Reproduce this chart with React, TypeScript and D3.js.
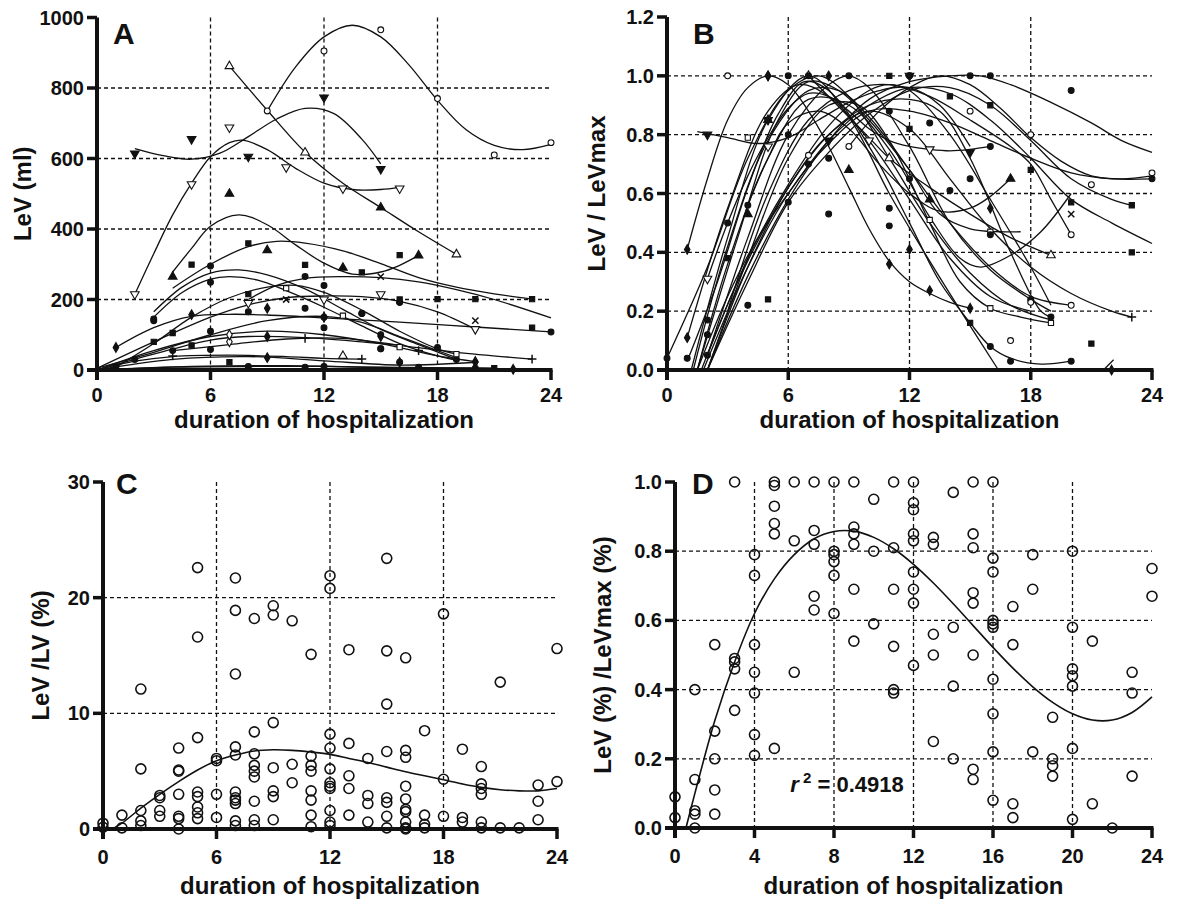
import React from 'react';
import * as d3 from 'd3';

type Pt = [number, number];
type Loose = [number, number, string];

// ---- panel A: LeV (ml), markers + fitted curve for each patient ----
const aShapes = ['o', 'T', 'v', 'V', 't', 's', 'c', 'c', 'x', 'S', 'd', 'V', '+', 'd', '+', 'd', 'c', 'c', 's', 'd', 'D'];
const aPoints: Pt[][] = [
  [[9, 735], [12, 905], [15, 965], [18, 770], [21, 610], [24, 645]],
  [[7, 862], [11, 617], [19, 328]],
  [[2, 614], [5, 655], [8, 605], [12, 773], [15, 570]],
  [[2, 215], [5, 527], [7, 688], [10, 575], [13, 515], [16, 515]],
  [[4, 265], [7, 500], [9, 340], [13, 290], [17, 325]],
  [[5, 299], [8, 359], [11, 298], [14, 277], [18, 201], [20, 201], [23, 201]],
  [[3, 145], [6, 295], [11, 265], [14, 160], [18, 64]],
  [[3, 140], [6, 249], [12, 240], [16, 192], [19, 30]],
  [[10, 200], [15, 265], [20, 140]],
  [[10, 232], [13, 154], [16, 65], [19, 45]],
  [[1, 64], [5, 157], [9, 175], [12, 150]],
  [[8, 190], [12, 200], [15, 215], [20, 116]],
  [[11, 90], [17, 55], [23, 31]],
  [[9, 95], [15, 95], [20, 24]],
  [[4, 40], [14, 31]],
  [[9, 35], [16, 22], [20, 22]],
  [[6, 58], [12, 150], [15, 60], [24, 108]],
  [[8, 10], [11, 8], [12, 10], [16, 22], [17, 8], [20, 5]],
  [[7, 22], [21, 5], [23, 120]],
  [[22, 2]],
  [[7, 80], [7, 100]],
];
const aFits: Pt[][] = [
  [[9, 735], [10.5, 860], [12, 945], [13.5, 978], [15, 945], [16.5, 865], [18, 765], [19.5, 682], [21, 637], [22.5, 625], [24, 640]],
  [[7, 862], [9, 737], [11, 618], [13, 530], [15, 461], [17, 392], [19, 328]],
  [[2, 628], [3.5, 608], [5, 598], [6.5, 615], [8, 662], [9.5, 712], [11, 742], [12.5, 728], [14, 655], [15, 585]],
  [[2, 215], [3, 330], [4, 440], [5, 530], [6, 605], [7, 645], [7.7, 652], [9, 625], [10.5, 572], [12, 530], [13.5, 512], [15, 512], [16, 518]],
  [[4, 278], [5, 345], [6, 408], [7.5, 440], [9, 412], [10.5, 355], [12, 303], [13.5, 272], [15, 278], [16, 297], [17, 325]],
  [[4, 232], [6, 300], [8, 350], [9.5, 365], [11, 360], [13, 338], [15, 302], [17, 262], [19, 235], [21, 216], [23, 201]],
  [[3, 165], [4.5, 235], [6, 275], [7.5, 284], [9, 270], [11, 230], [13, 172], [15, 115], [17, 72], [19, 30]],
  [[3, 150], [4.5, 220], [6, 258], [7, 265], [8.5, 255], [10, 225], [12, 178], [14, 125], [16, 75], [18, 40], [19, 28]],
  [[8, 200], [9.5, 240], [11, 260], [13, 265], [15, 262], [17, 250], [19, 228], [21, 200], [24, 148]],
  [[1, 8], [3, 75], [5, 150], [7, 205], [9, 235], [10.5, 240], [12, 220], [14, 170], [16, 110], [18, 60], [19, 45]],
  [[1, 64], [3, 120], [5, 152], [7, 158], [9, 156], [12, 148], [16, 136], [20, 122], [24, 108]],
  [[0, 5], [3, 80], [6, 150], [8, 185], [10, 205], [12, 210], [14, 208], [16, 195], [18, 165], [20, 116]],
  [[4, 55], [7, 72], [10, 88], [13, 90], [16, 70], [19, 50], [23, 31]],
  [[0, 0], [3, 55], [6, 95], [9, 110], [12, 100], [15, 75], [18, 40], [20, 24]],
  [[0, 0], [2, 25], [4, 38], [7, 42], [10, 38], [12, 33], [14, 31]],
  [[0, 0], [4, 30], [8, 38], [12, 26], [16, 14], [20, 22]],
  [[0, 5], [3, 50], [6, 100], [9, 140], [12, 152], [14, 135], [16, 95], [18, 55], [19, 35]],
  [[0, 0], [4, 8], [8, 10], [12, 10], [16, 6], [20, 5], [22, 3]],
  [[0, 0], [5, 10], [10, 12], [15, 8], [21, 5]],
  [[0, 0], [8, 3], [16, 2], [22, 2]],
  [[0, 0], [3, 45], [6, 85], [8, 95], [11, 92], [14, 80], [16, 70]],
];
const aLoose: Loose[] = [
  [15, 461, 't'], [16, 326, 's'], [8, 215, 's'], [14, 160, 'c'], [16, 192, 'c'], [16, 200, 's'],
  [13, 40, 'T'], [15, 60, 'c'], [1, 10, 'c'], [2, 30, 'c'], [3, 80, 's'], [4, 105, 's'], [4, 55, 'c'],
  [5, 70, 's'], [6, 110, 'c'], [8, 165, 'c'], [11, 175, 'c'], [12, 120, 'c'], [15, 100, 'c'],
];

// ---- panel B: LeV / LeVmax ----
const bShapes = ['d', 'v', 'o', 'V', 'T', 't', 'c', 'c', 'c', 'S', 'x', 'S', 'c', 'c', 's', 'c', 'c', 'c', '+', 'o', 'o', 'd', 'd', 'c'];
const bPoints: Pt[][] = [
  [[1, 0.41], [5, 1.0], [11, 0.36], [13, 0.27], [15, 0.21]],
  [[2, 0.8], [5, 0.85], [8, 0.78], [12, 1.0], [15, 0.74]],
  [[9, 0.76], [18, 0.8], [21, 0.63], [24, 0.67]],
  [[2, 0.31], [5, 0.76], [10, 0.78], [13, 0.75]],
  [[7, 1.0], [11, 0.72], [19, 0.39]],
  [[4, 0.53], [5, 0.85], [9, 0.68], [13, 0.58], [17, 0.65]],
  [[7, 1.0], [11, 0.49]],
  [[1, 0.04], [6, 1.0], [16, 0.08], [17, 0.03], [20, 0.03]],
  [[2, 0.05], [9, 1.0], [14, 0.61], [18, 0.24]],
  [[4, 0.79], [13, 0.51], [16, 0.47]],
  [[20, 0.53]],
  [[16, 0.21], [19, 0.16]],
  [[12, 0.65], [15, 0.65], [19, 0.18]],
  [[6, 0.57], [8, 0.72], [12, 1.0]],
  [[11, 1.0], [14, 0.93], [16, 0.9], [18, 0.68], [23, 0.56]],
  [[15, 1.0], [16, 1.0], [20, 0.95]],
  [[11, 0.88], [16, 0.76], [24, 0.65]],
  [[13, 0.84], [16, 0.46]],
  [[23, 0.18]],
  [[15, 0.88], [20, 0.46]],
  [[7, 0.73], [20, 0.22]],
  [[1, 0.11], [12, 0.41], [16, 0.55]],
  [[22, 0]],
  [[0, 0.04], [3, 0.5], [7, 0.7]],
];
const bFits: Pt[][] = [
  [[1, 0.41], [2, 0.65], [3, 0.85], [4, 0.96], [5, 1.0], [6, 0.97], [7, 0.88], [8, 0.76], [9, 0.62], [10, 0.48], [11, 0.37], [12, 0.3], [13, 0.26], [14, 0.23], [15, 0.21]],
  [[1.5, 0.81], [3, 0.79], [4.5, 0.77], [6, 0.79], [7.5, 0.85], [9, 0.91], [10.5, 0.95], [12, 0.96], [13.5, 0.9], [15, 0.76]],
  [[9, 0.76], [10.5, 0.88], [12, 0.96], [13.5, 1.0], [15, 0.97], [16.5, 0.89], [18, 0.79], [19.5, 0.71], [21, 0.66], [22.5, 0.65], [24, 0.66]],
  [[2, 0.31], [3, 0.5], [4, 0.66], [5, 0.79], [6, 0.89], [7, 0.94], [8, 0.93], [9, 0.88], [10, 0.82], [11, 0.78], [12, 0.76], [13, 0.75], [14, 0.745], [15, 0.75], [16, 0.76]],
  [[7, 1.0], [8, 0.93], [9, 0.86], [10, 0.79], [11, 0.72], [13, 0.62], [15, 0.53], [17, 0.45], [19, 0.39]],
  [[4, 0.56], [5, 0.72], [6, 0.84], [7.5, 0.88], [9, 0.82], [10.5, 0.7], [12, 0.6], [13.5, 0.54], [15, 0.55], [16, 0.59], [17, 0.65]],
  [[1.2, 0], [3, 0.45], [5, 0.85], [7, 1.0], [9, 0.86], [11, 0.6], [13, 0.37], [15, 0.15], [16.4, 0]],
  [[1, 0.03], [2.5, 0.3], [4, 0.62], [5.5, 0.87], [6.8, 0.98], [8, 0.95], [10, 0.76], [12, 0.5], [13.5, 0.3], [15, 0.16], [16, 0.08], [17, 0.04], [18.5, 0.02], [20, 0.03]],
  [[2, 0.05], [4, 0.45], [6, 0.8], [8, 0.97], [9, 1.0], [10, 0.96], [12, 0.76], [14, 0.5], [16, 0.34], [18, 0.24], [19, 0.2]],
  [[1.3, 0], [3, 0.42], [5, 0.78], [7, 0.95], [8.5, 0.95], [10, 0.86], [12, 0.68], [13.5, 0.53], [15, 0.48], [16.5, 0.47], [17.5, 0.47]],
  [[1.5, 0], [3, 0.36], [5, 0.72], [7, 0.92], [9, 0.9], [11, 0.75], [13, 0.52], [14.5, 0.38], [15.5, 0.35], [17, 0.39], [18.5, 0.47], [20, 0.6]],
  [[2, 0], [4, 0.38], [6, 0.72], [8, 0.9], [9.5, 0.9], [11, 0.78], [13, 0.5], [14.5, 0.3], [16, 0.21], [17.5, 0.18], [19, 0.16]],
  [[1.7, 0], [3.5, 0.3], [6, 0.62], [8, 0.8], [10, 0.9], [12, 0.92], [13.5, 0.88], [15, 0.72], [17, 0.4], [18.5, 0.2], [19, 0.18]],
  [[1.5, 0], [3, 0.25], [4.5, 0.45], [6, 0.6], [8, 0.78], [10, 0.9], [12, 0.96], [14, 0.94], [16, 0.85], [18, 0.72], [20, 0.58], [22, 0.5], [24, 0.43]],
  [[2, 0], [4, 0.3], [6, 0.57], [8, 0.74], [10, 0.87], [12, 0.95], [14, 0.96], [16, 0.9], [18, 0.78], [20, 0.65], [22, 0.58], [23, 0.56]],
  [[2, 0], [4, 0.32], [6, 0.58], [8, 0.78], [10, 0.92], [12, 0.98], [14, 1.0], [15.5, 1.0], [17, 0.97], [19, 0.91], [21, 0.84], [22.5, 0.78], [24, 0.74]],
  [[1.8, 0], [4, 0.35], [6, 0.6], [8, 0.77], [10, 0.88], [12, 0.88], [14, 0.84], [16, 0.78], [18, 0.72], [20, 0.67], [22, 0.65], [24, 0.65]],
  [[2, 0.05], [4, 0.38], [6, 0.63], [8, 0.83], [10, 0.95], [11, 0.97], [12, 0.95], [14, 0.8], [16, 0.58], [18, 0.35], [19, 0.22]],
  [[2, 0], [4, 0.35], [6, 0.62], [8, 0.8], [10, 0.88], [12, 0.82], [14, 0.65], [16, 0.48], [18, 0.35], [20, 0.26], [22, 0.2], [23, 0.18]],
  [[3, 0.2], [5, 0.6], [7, 0.85], [9, 0.95], [11, 0.97], [13, 0.93], [15, 0.85], [17, 0.76], [18, 0.7], [19, 0.58], [20, 0.46]],
  [[1.5, 0], [3.5, 0.45], [5.5, 0.85], [7, 0.98], [8.5, 0.95], [10, 0.85], [12, 0.68], [14, 0.5], [16, 0.35], [18, 0.25], [20, 0.22]],
  [[1, 0.11], [3, 0.55], [5, 0.88], [6.5, 0.97], [8, 0.93], [10, 0.78], [12, 0.58], [14, 0.38], [16, 0.25], [18, 0.2]],
  [[21.6, 0], [22.1, 0.035]],
  [[0, 0.04], [2, 0.35], [4, 0.72], [6, 0.95], [7.5, 1.0], [9, 0.93], [11, 0.72], [13, 0.5], [15, 0.33], [17, 0.22], [19, 0.17]],
];
const bLoose: Loose[] = [
  [4, 0.22, 'c'], [8, 0.53, 'c'], [4, 0.56, 'c'], [2, 0.17, 'c'], [2, 0.12, 'c'], [3, 1.0, 'o'], [12, 1.0, 'c'],
  [5, 0.24, 's'], [3, 0.38, 's'], [21, 0.09, 's'], [23, 0.4, 's'], [20, 0.57, 's'], [8, 1.0, 'd'], [6, 0.8, 'c'],
  [11, 0.55, 'c'], [15, 0.16, 's'], [12, 0.82, 's'], [17, 0.1, 'o'], [18, 0.23, 'o'], [5, 1.0, 'd'],
];

// ---- panel C: LeV / LV (%) ----
const cDays = [0, 0, 1, 1, 2, 2, 2, 2, 2, 3, 3, 3, 3, 4, 4, 4, 4, 4, 4, 4, 5, 5, 5, 5, 5, 5, 5, 5, 6, 6, 6, 6,
  7, 7, 7, 7, 7, 7, 7, 7, 7, 7, 7, 8, 8, 8, 8, 8, 8, 8, 8, 8, 9, 9, 9, 9, 9, 9, 9, 10, 10, 10,
  11, 11, 11, 11, 11, 11, 11, 11, 12, 12, 12, 12, 12, 12, 12, 12, 12, 12, 12, 13, 13, 13, 13, 13,
  14, 14, 14, 14, 15, 15, 15, 15, 15, 15, 15, 15, 16, 16, 16, 16, 16, 16, 16, 16, 16, 16,
  17, 17, 17, 17, 18, 18, 18, 19, 19, 19, 20, 20, 20, 20, 20, 20, 21, 21, 22, 23, 23, 23, 24, 24];
const cValues = [0.5, 0.15, 1.2, 0.1, 12.1, 5.2, 1.6, 0.7, 0.3, 2.7, 2.9, 1.6, 1.1, 7.0, 5.1, 5.0, 3.0, 1.1, 0.9, 0,
  22.6, 16.6, 7.9, 3.2, 2.8, 1.9, 1.4, 0.9, 6.1, 5.9, 3.0, 1.0,
  21.7, 18.9, 13.4, 7.1, 6.4, 3.2, 2.7, 2.5, 2.2, 0.7, 0.3, 18.2, 8.4, 6.5, 5.5, 5.0, 4.5, 2.4, 0.8, 0.3,
  19.3, 18.5, 9.2, 5.3, 3.3, 2.8, 0.8, 18.0, 5.6, 4.0,
  15.1, 6.3, 5.5, 5.0, 3.3, 2.5, 1.2, 0.2, 21.9, 20.8, 8.2, 7.0, 5.2, 4.0, 3.7, 3.5, 1.6, 0.6, 0.3,
  15.5, 7.4, 4.6, 3.5, 1.2, 6.1, 2.9, 2.2, 0.6, 23.4, 15.4, 10.8, 6.7, 2.7, 2.3, 1.1, 0.1,
  14.8, 6.8, 6.2, 3.7, 2.6, 1.7, 1.5, 0.6, 0.1, 0, 8.5, 1.2, 0.4, 0.1, 18.6, 4.3, 1.1, 6.9, 1.0, 0.6,
  5.4, 3.9, 3.5, 3.0, 0.6, 0.1, 12.7, 0.1, 0.1, 3.8, 2.4, 0.8, 15.6, 4.1];
const cFit: Pt[] = [[0.5, 0], [1, 0.5], [2, 1.8], [3, 3.0], [4, 4.1], [5, 5.1], [6, 5.9], [7, 6.4], [8, 6.75], [9, 6.85],
  [10, 6.8], [11, 6.65], [12, 6.45], [13, 6.1], [14, 5.75], [15, 5.35], [16, 4.95], [17, 4.6], [18, 4.25], [19, 3.9],
  [20, 3.6], [21, 3.4], [22, 3.3], [23, 3.3], [24, 3.5]];

// ---- panel D: LeV (%) / LeVmax (%) ----
const dDays = [0, 0, 1, 1, 1, 1, 1, 2, 2, 2, 2, 2, 3, 3, 3, 3, 3, 4, 4, 4, 4, 4, 4, 4, 5, 5, 5, 5, 5, 5, 6, 6, 6,
  7, 7, 7, 7, 7, 8, 8, 8, 8, 8, 8, 9, 9, 9, 9, 9, 9, 10, 10, 10, 11, 11, 11, 11, 11, 11,
  12, 12, 12, 12, 12, 12, 12, 12, 12, 13, 13, 13, 13, 13, 14, 14, 14, 14, 15, 15, 15, 15, 15, 15, 15, 15,
  16, 16, 16, 16, 16, 16, 16, 16, 16, 16, 17, 17, 17, 17, 18, 18, 18, 19, 19, 19, 19,
  20, 20, 20, 20, 20, 20, 20, 21, 21, 22, 23, 23, 23, 24, 24];
const dValues = [0.09, 0.03, 0.4, 0.14, 0.05, 0.04, 0, 0.53, 0.28, 0.2, 0.11, 0.04, 1.0, 0.49, 0.48, 0.46, 0.34,
  0.79, 0.73, 0.53, 0.45, 0.39, 0.27, 0.21, 1.0, 0.99, 0.93, 0.88, 0.85, 0.23, 1.0, 0.83, 0.45,
  1.0, 0.86, 0.82, 0.67, 0.63, 1.0, 0.8, 0.79, 0.77, 0.73, 0.62, 1.0, 0.87, 0.85, 0.82, 0.69, 0.54, 0.95, 0.8, 0.59,
  1.0, 0.81, 0.69, 0.525, 0.4, 0.39, 1.0, 0.94, 0.92, 0.85, 0.83, 0.74, 0.69, 0.65, 0.47,
  0.84, 0.82, 0.56, 0.5, 0.25, 0.97, 0.58, 0.41, 0.2, 1.0, 0.85, 0.81, 0.68, 0.65, 0.5, 0.17, 0.14,
  1.0, 0.78, 0.74, 0.6, 0.59, 0.58, 0.43, 0.33, 0.22, 0.08, 0.64, 0.53, 0.07, 0.03, 0.79, 0.69, 0.22,
  0.32, 0.2, 0.18, 0.15, 0.8, 0.58, 0.46, 0.44, 0.41, 0.23, 0.025, 0.54, 0.07, 0, 0.45, 0.39, 0.15, 0.75, 0.67];
const dFit: Pt[] = [[0.55, 0], [1, 0.1], [2, 0.31], [3, 0.48], [4, 0.62], [5, 0.72], [6, 0.79], [7, 0.836], [8, 0.857],
  [9, 0.858], [10, 0.84], [11, 0.807], [12, 0.762], [13, 0.708], [14, 0.648], [15, 0.585], [16, 0.522], [17, 0.462],
  [18, 0.408], [19, 0.363], [20, 0.33], [21, 0.312], [22, 0.312], [23, 0.334], [24, 0.379]];

const FONT = '"Liberation Sans", Arial, sans-serif';

interface Layout {
  x0: number; x1: number; yb: number; yt: number; yMax: number;
  xTicks: number[]; xGrid: number[]; yTicks: number[]; yGrid: number[];
  yFmt: (v: number) => string; tag: string; tagX: number; tagY: number;
  yTitle: string; yTitleX: number; xTitleY: number; xTickY: number;
}

function Marker({ x, y, shape, size = 27 }: { x: number; y: number; shape: string; size?: number }) {
  const types: Record<string, d3.SymbolType> = {
    o: d3.symbolCircle, c: d3.symbolCircle, s: d3.symbolSquare, S: d3.symbolSquare,
    t: d3.symbolTriangle, T: d3.symbolTriangle, v: d3.symbolTriangle, V: d3.symbolTriangle,
    d: d3.symbolDiamond, D: d3.symbolDiamond, '+': d3.symbolPlus, x: d3.symbolTimes,
  };
  const open = 'oSTVD'.includes(shape);
  const stroked = shape === '+' || shape === 'x';
  const tri = 'tTvV'.includes(shape);
  const path = d3.symbol().type(types[shape] || d3.symbolCircle).size(tri ? size * 1.2 : size)() || '';
  const rot = shape === 'v' || shape === 'V' ? ' rotate(180)' : '';
  return (
    <path
      d={path}
      transform={`translate(${x},${y})${rot}`}
      fill={open || stroked ? (stroked ? 'none' : '#fff') : '#111'}
      stroke="#111"
      strokeWidth={stroked ? 1.5 : 1.1}
    />
  );
}

function Frame({ L, children }: { L: Layout; children: (x: d3.ScaleLinear<number, number>, y: d3.ScaleLinear<number, number>) => React.ReactNode }) {
  const x = d3.scaleLinear().domain([0, 24]).range([L.x0, L.x1]);
  const y = d3.scaleLinear().domain([0, L.yMax]).range([L.yb, L.yt]);
  const tick = 10;
  return (
    <g>
      {L.yGrid.map((v) => (
        <line key={'hy' + v} x1={L.x0} x2={L.x1} y1={y(v)} y2={y(v)} stroke="#111" strokeWidth={1.3} strokeDasharray="4,3" />
      ))}
      {L.xGrid.map((v) => (
        <line key={'hx' + v} x1={x(v)} x2={x(v)} y1={L.yt} y2={L.yb} stroke="#111" strokeWidth={1.3} strokeDasharray="4,3" />
      ))}
      <g>{children(x, y)}</g>
      <line x1={L.x0} x2={L.x0} y1={L.yt} y2={L.yb + tick} stroke="#111" strokeWidth={4} />
      <line x1={L.x0 - tick} x2={L.x1 + 1.5} y1={L.yb} y2={L.yb} stroke="#111" strokeWidth={4} />
      {L.xTicks.map((v) => (
        <g key={'xt' + v}>
          <line x1={x(v)} x2={x(v)} y1={L.yb} y2={L.yb + tick} stroke="#111" strokeWidth={3.5} />
          <text x={x(v)} y={L.yb + L.xTickY} textAnchor="middle" fontFamily={FONT} fontWeight="bold" fontSize={20} fill="#111">
            {v}
          </text>
        </g>
      ))}
      {L.yTicks.map((v) => (
        <g key={'yt' + v}>
          <line x1={L.x0 - tick} x2={L.x0} y1={y(v)} y2={y(v)} stroke="#111" strokeWidth={3.5} />
          <text x={L.x0 - tick - 3} y={y(v) + 7} textAnchor="end" fontFamily={FONT} fontWeight="bold" fontSize={20} fill="#111">
            {L.yFmt(v)}
          </text>
        </g>
      ))}
      <text x={L.tagX} y={L.tagY} fontFamily={FONT} fontWeight="bold" fontSize={30} fill="#111">
        {L.tag}
      </text>
      <text x={(L.x0 + L.x1) / 2} y={L.xTitleY} textAnchor="middle" fontFamily={FONT} fontWeight="bold" fontSize={24} fill="#111">
        duration of hospitalization
      </text>
      <text
        transform={`translate(${L.yTitleX},${(L.yt + L.yb) / 2}) rotate(-90)`}
        textAnchor="middle"
        fontFamily={FONT}
        fontWeight="bold"
        fontSize={24}
        fill="#111"
      >
        {L.yTitle}
      </text>
    </g>
  );
}

const fmtInt = (v: number) => String(v);
const fmt1 = (v: number) => v.toFixed(1);

const layoutA: Layout = { x0: 97, x1: 551, yb: 370, yt: 17.5, yMax: 1000, xTicks: [0, 6, 12, 18, 24], xGrid: [6, 12, 18],
  yTicks: [0, 200, 400, 600, 800, 1000], yGrid: [200, 400, 600, 800], yFmt: fmtInt, tag: 'A', tagX: 113, tagY: 44,
  yTitle: 'LeV (ml)', yTitleX: 31, xTitleY: 428, xTickY: 32 };
const layoutB: Layout = { x0: 667, x1: 1152, yb: 370, yt: 17, yMax: 1.2, xTicks: [0, 6, 12, 18, 24], xGrid: [6, 12, 18],
  yTicks: [0, 0.2, 0.4, 0.6, 0.8, 1.0, 1.2], yGrid: [0.2, 0.4, 0.6, 0.8, 1.0], yFmt: fmt1, tag: 'B', tagX: 693, tagY: 44,
  yTitle: 'LeV / LeVmax', yTitleX: 605, xTitleY: 428, xTickY: 32 };
const layoutC: Layout = { x0: 103, x1: 557, yb: 829, yt: 482, yMax: 30, xTicks: [0, 6, 12, 18, 24], xGrid: [6, 12, 18],
  yTicks: [0, 10, 20, 30], yGrid: [10, 20], yFmt: fmtInt, tag: 'C', tagX: 116, tagY: 494,
  yTitle: 'LeV /LV (%)', yTitleX: 49, xTitleY: 894, xTickY: 35 };
const layoutD: Layout = { x0: 675, x1: 1152, yb: 828, yt: 482, yMax: 1.0, xTicks: [0, 4, 8, 12, 16, 20, 24], xGrid: [4, 8, 12, 16, 20],
  yTicks: [0, 0.2, 0.4, 0.6, 0.8, 1.0], yGrid: [0.2, 0.4, 0.6, 0.8], yFmt: fmt1, tag: 'D', tagX: 692, tagY: 494,
  yTitle: 'LeV (%) /LeVmax (%)', yTitleX: 611, xTitleY: 894, xTickY: 35 };

function curvePath(x: d3.ScaleLinear<number, number>, y: d3.ScaleLinear<number, number>, pts: Pt[]) {
  return d3.line<Pt>().x((d) => x(d[0])).y((d) => y(d[1])).curve(d3.curveCatmullRom.alpha(0.5))(pts) || '';
}

function Trajectories({ fits, points, shapes, loose, x, y }: {
  fits: Pt[][]; points: Pt[][]; shapes: string[]; loose: Loose[];
  x: d3.ScaleLinear<number, number>; y: d3.ScaleLinear<number, number>;
}) {
  return (
    <g>
      {fits.map((f, i) => (
        <path key={'f' + i} d={curvePath(x, y, f)} fill="none" stroke="#111" strokeWidth={1.3} />
      ))}
      {points.map((ps, i) =>
        ps.map((p, j) => <Marker key={`m${i}-${j}`} x={x(p[0])} y={y(p[1])} shape={shapes[i]} />)
      )}
      {loose.map((p, i) => (
        <Marker key={'l' + i} x={x(p[0])} y={y(p[1])} shape={p[2]} />
      ))}
    </g>
  );
}

function Scatter({ days, values, fit, x, y }: {
  days: number[]; values: number[]; fit: Pt[];
  x: d3.ScaleLinear<number, number>; y: d3.ScaleLinear<number, number>;
}) {
  return (
    <g>
      <path d={curvePath(x, y, fit)} fill="none" stroke="#111" strokeWidth={1.6} />
      {days.map((d, i) => (
        <circle key={i} cx={x(d)} cy={y(values[i])} r={5} fill="none" stroke="#111" strokeWidth={1.6} />
      ))}
    </g>
  );
}

export default function App() {
  return (
    <svg width={1179} height={899} style={{ position: 'absolute', left: 0, top: 0, background: '#fff' }}>
      <rect width={1179} height={899} fill="#fff" />
      <Frame L={layoutA}>
        {(x, y) => <Trajectories fits={aFits} points={aPoints} shapes={aShapes} loose={aLoose} x={x} y={y} />}
      </Frame>
      <Frame L={layoutB}>
        {(x, y) => <Trajectories fits={bFits} points={bPoints} shapes={bShapes} loose={bLoose} x={x} y={y} />}
      </Frame>
      <Frame L={layoutC}>
        {(x, y) => <Scatter days={cDays} values={cValues} fit={cFit} x={x} y={y} />}
      </Frame>
      <Frame L={layoutD}>
        {(x, y) => (
          <g>
            <Scatter days={dDays} values={dValues} fit={dFit} x={x} y={y} />
            <text x={x(5.8)} y={y(0.105)} fontFamily={FONT} fontWeight="bold" fontSize={22} fill="#111">
              <tspan fontStyle="italic">r</tspan>
              <tspan dy={-9} fontSize={15}> 2</tspan>
              <tspan dy={9}> = 0.4918</tspan>
            </text>
          </g>
        )}
      </Frame>
    </svg>
  );
}
